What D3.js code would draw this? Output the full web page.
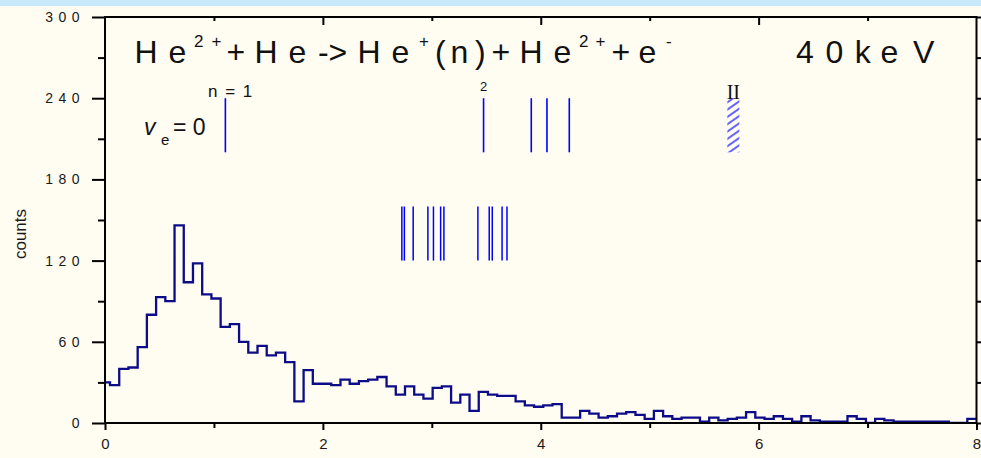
<!DOCTYPE html>
<html>
<head>
<meta charset="utf-8">
<script src="https://cdn.jsdelivr.net/npm/d3@7"></script>
<style>
  html, body { margin: 0; padding: 0; background: #fffcf2; }
  svg { display: block; font-family: Arial, "Liberation Sans", sans-serif; }
</style>
</head>
<body>
<svg id="chart" width="981" height="458"></svg>
<script>
// histogram counts, one per bin (first bin is partly hidden behind the y axis)
const counts = [
  30, 28, 40, 41, 56, 80, 93, 90, 146, 104,
  118, 95, 92, 71, 73, 60, 52, 57, 50, 52,
  45, 16, 39, 29, 29, 28, 32, 29, 31, 32,
  34, 27, 21, 27, 21, 18, 26, 27, 15, 21,
  9, 23, 21, 20, 20, 16, 13, 12, 13, 14,
  4, 4, 9, 7, 4, 5, 7, 8, 6, 3,
  9, 5, 3, 4, 4, 1, 4, 2, 3, 4,
  8, 4, 3, 5, 3, 1, 5, 2, 1, 1,
  1, 5, 3, 0, 3, 2, 1, 1, 1, 1,
  1, 1, 0, 0, 3
];
const binStart = 0.046;     // right edge of the first bin
const binWidth = 0.08462;

const xMajor = [0, 2, 4, 6, 8];
const xMinor = [1, 3, 5, 7];
const yMajor = [0, 60, 120, 180, 240, 300];
const yMinor = [30, 90, 150, 210, 270];

// velocity markers
const upperLines = [1.105, 3.475, 3.913, 4.057, 4.262];
const upperRange = [200, 240];
const lowerLines = [2.725, 2.748, 2.829, 2.964, 3.015, 3.081, 3.111, 3.423, 3.527, 3.555, 3.645, 3.690];
const lowerRange = [120, 160];
const seriesLimit = [5.713, 5.823];   // hatched "II" band

const svg = d3.select("#chart");
const W = 981, H = 458;
const m = { left: 105, right: 976.5, top: 17, bottom: 423 };

svg.append("rect").attr("width", W).attr("height", H).attr("fill", "#fffcf2");
svg.append("rect").attr("width", W).attr("height", 6).attr("fill", "#c8e9fb");

const x = d3.scaleLinear().domain([0, 8]).range([m.left, m.right]);
const y = d3.scaleLinear().domain([0, 300]).range([m.bottom, m.top]);

const defs = svg.append("defs");
defs.append("clipPath").attr("id", "plot")
  .append("rect").attr("x", m.left).attr("y", m.top)
  .attr("width", m.right - m.left).attr("height", m.bottom - m.top);

const hatch = defs.append("pattern").attr("id", "hatch")
  .attr("patternUnits", "userSpaceOnUse")
  .attr("width", 6).attr("height", 6)
  .attr("patternTransform", "rotate(-35)");
hatch.append("line").attr("x1", 0).attr("x2", 6).attr("y1", 3).attr("y2", 3)
  .attr("stroke", "#1010ff").attr("stroke-width", 1.3);

// ---- histogram ----
const pts = counts.map((c, i) => ({ x: binStart + (i - 1) * binWidth, y: c }));
pts.push({ x: binStart + (counts.length - 1) * binWidth, y: counts[counts.length - 1] });

svg.append("path")
  .datum(pts)
  .attr("clip-path", "url(#plot)")
  .attr("fill", "none")
  .attr("stroke", "#0c0c88")
  .attr("stroke-width", 2.3)
  .attr("d", d3.line().x(d => x(d.x)).y(d => y(d.y)).curve(d3.curveStepAfter));

// ---- marker lines ----
const marks = svg.append("g").attr("stroke", "#0000ff");
marks.selectAll("line.up").data(upperLines).join("line")
  .attr("class", "up")
  .attr("x1", d => x(d)).attr("x2", d => x(d))
  .attr("y1", y(upperRange[0])).attr("y2", y(upperRange[1]))
  .attr("stroke-width", 1.6);
marks.selectAll("line.low").data(lowerLines).join("line")
  .attr("class", "low")
  .attr("x1", d => x(d)).attr("x2", d => x(d))
  .attr("y1", y(lowerRange[0])).attr("y2", y(lowerRange[1]))
  .attr("stroke-width", 1.5);

svg.append("rect")
  .attr("x", x(seriesLimit[0])).attr("width", x(seriesLimit[1]) - x(seriesLimit[0]))
  .attr("y", y(upperRange[1])).attr("height", y(upperRange[0]) - y(upperRange[1]))
  .attr("fill", "url(#hatch)");

// ---- axes ----
function styleAxis(g) {
  g.select(".domain").remove();
  g.selectAll("line").attr("stroke", "#000").attr("stroke-width", 2);
  g.selectAll("text").attr("fill", "#1a1a1a");
}

svg.append("g").attr("transform", `translate(${m.left},0)`)
  .call(d3.axisLeft(y).tickValues(yMajor).tickSize(13).tickPadding(7))
  .call(styleAxis)
  .call(g => g.selectAll("text").style("font-size", "14px").style("letter-spacing", "5.5px"));
svg.append("g").attr("transform", `translate(${m.left},0)`)
  .call(d3.axisLeft(y).tickValues(yMinor).tickSize(7).tickFormat(""))
  .call(styleAxis);

svg.append("g").attr("transform", `translate(${m.right},0)`)
  .call(d3.axisRight(y).tickValues(yMajor.concat(yMinor)).tickSize(5).tickFormat(""))
  .call(styleAxis);

svg.append("g").attr("transform", `translate(0,${m.bottom})`)
  .call(d3.axisBottom(x).tickValues(xMajor).tickSize(7).tickPadding(8))
  .call(styleAxis)
  .call(g => g.selectAll("text").style("font-size", "15px"));
svg.append("g").attr("transform", `translate(0,${m.bottom})`)
  .call(d3.axisBottom(x).tickValues(xMinor).tickSize(5).tickFormat(""))
  .call(styleAxis);

svg.append("g").attr("transform", `translate(0,${m.top})`)
  .call(d3.axisBottom(x).tickValues(xMajor.slice(1, -1)).tickSize(8).tickFormat(""))
  .call(styleAxis);
svg.append("g").attr("transform", `translate(0,${m.top})`)
  .call(d3.axisBottom(x).tickValues(xMinor).tickSize(4).tickFormat(""))
  .call(styleAxis);

// frame
svg.append("rect")
  .attr("x", m.left).attr("y", m.top)
  .attr("width", m.right - m.left).attr("height", m.bottom - m.top)
  .attr("fill", "none").attr("stroke", "#000").attr("stroke-width", 2);

svg.append("text")
  .attr("transform", "translate(26,234) rotate(-90)")
  .attr("text-anchor", "middle")
  .style("font-size", "17px").attr("fill", "#1a1a1a")
  .text("counts");

// ---- title ----
const titleParts = [
  { t: "He", xs: [134.5, 168.5] },
  { t: "2+", xs: [194, 211.5], sup: true },
  { t: "+He->He", xs: [226.5, 254.5, 288.5, 318, 328.5, 357.5, 391.5] },
  { t: "+", xs: [419], sup: true },
  { t: "(n)+He", xs: [435, 450.5, 475, 491.5, 519.5, 553.5] },
  { t: "2+", xs: [579, 595.5], sup: true },
  { t: "+e", xs: [611.5, 638.5] },
  { t: "-", xs: [666], sup: true }
];
const title = svg.append("text").attr("fill", "#111");
titleParts.forEach(p => {
  title.append("tspan")
    .attr("x", p.xs.join(" "))
    .attr("y", p.sup ? 47 : 63)
    .style("font-size", p.sup ? "17px" : "32px")
    .text(p.t);
});

svg.append("text").attr("fill", "#111")
  .attr("x", [796, 825.4, 854.7, 880.4, 913].join(" ")).attr("y", 63)
  .style("font-size", "32px").text("40keV");

// ---- labels for markers ----
svg.append("text").attr("x", 208).attr("y", 97).attr("fill", "#111")
  .style("font-size", "17px").style("letter-spacing", "1.5px").text("n = 1");
svg.append("text").attr("x", x(upperLines[1])).attr("y", 90.5).attr("fill", "#111")
  .attr("text-anchor", "middle").style("font-size", "13px").text("2");
svg.append("text").attr("x", (x(seriesLimit[0]) + x(seriesLimit[1])) / 2).attr("y", 99)
  .attr("text-anchor", "middle").attr("fill", "#111")
  .style("font-family", "'Liberation Serif', 'DejaVu Serif', serif").style("font-size", "20px")
  .text("II");

const ve = svg.append("text").attr("fill", "#111");
ve.append("tspan").attr("x", 144).attr("y", 135).style("font-size", "23px").style("font-style", "italic").text("v");
ve.append("tspan").attr("x", 161).attr("y", 145).style("font-size", "15px").text("e");
ve.append("tspan").attr("x", 173).attr("y", 135).style("font-size", "23px").text("= 0");
</script>
</body>
</html>
